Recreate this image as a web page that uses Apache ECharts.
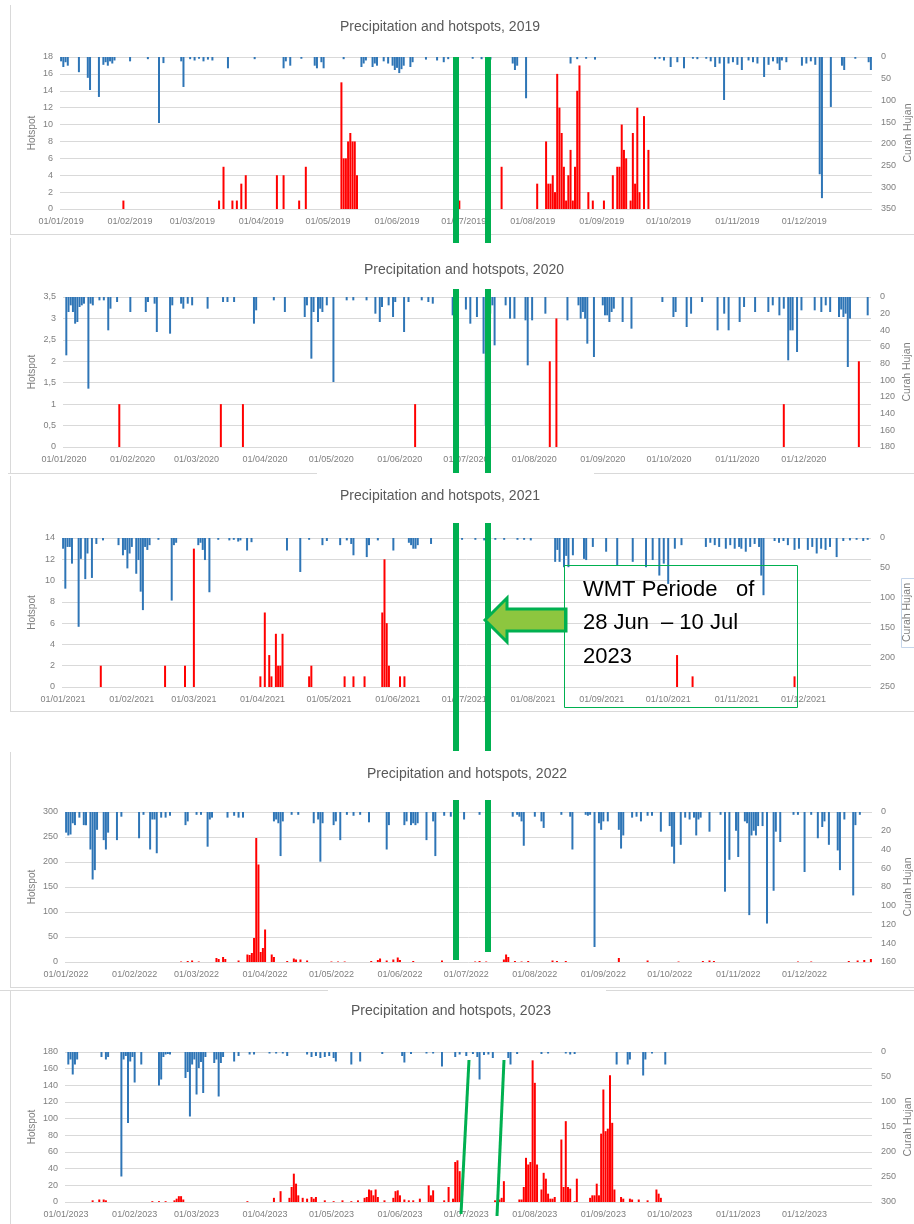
<!DOCTYPE html>
<html><head><meta charset="utf-8">
<script src="https://cdn.jsdelivr.net/npm/echarts@6/dist/echarts.min.js"></script>
<style>html,body{margin:0;padding:0;background:#fff}#c{width:914px;height:1224px}</style>
</head><body><div id="c"></div>
<script>
// ---------- DATA (sparse [dayOfYear, value]) ----------
const years = [2019, 2020, 2021, 2022, 2023];
const titles = years.map(y => 'Precipitation and hotspots, ' + y);

const hot2019 = [[28,1],[71,1],[73,5],[77,1],[79,1],[81,3],[83,4],[97,4],[100,4],[107,1],[110,5],[126,15],[127,6],[128,6],[129,8],[130,9],[131,8],[132,8],[133,4],[179,1],[198,5],[214,3],[218,8],[219,3],[220,3],[221,4],[222,2],[223,16],[224,12],[225,9],[226,5],[227,1],[228,4],[229,7],[230,1],[231,5],[232,14],[233,17],[237,2],[239,1],[244,1],[248,4],[250,5],[251,5],[252,10],[253,7],[254,6],[256,1],[257,9],[258,3],[259,12],[260,2],[262,11],[264,7]];
const rain2019 = [[0,10],[1,23],[2,12],[3,20],[8,35],[12,48],[13,76],[17,92],[19,18],[20,12],[21,20],[22,10],[23,15],[24,8],[31,10],[39,5],[44,152],[46,14],[54,10],[55,69],[58,5],[60,8],[62,4],[64,10],[66,6],[68,8],[75,26],[87,5],[100,26],[101,10],[103,20],[108,4],[114,20],[115,26],[117,12],[118,26],[127,5],[135,23],[136,15],[137,8],[140,23],[141,15],[142,20],[145,10],[147,15],[149,20],[150,30],[151,25],[152,37],[153,28],[154,20],[157,23],[158,12],[164,6],[169,8],[172,12],[174,5],[185,4],[189,5],[191,4],[193,6],[203,15],[204,30],[205,20],[209,95],[229,15],[232,5],[236,4],[240,6],[267,5],[269,4],[271,8],[274,23],[277,12],[280,26],[284,4],[286,5],[290,4],[292,10],[294,23],[296,15],[298,99],[300,15],[302,12],[304,18],[306,30],[309,8],[311,12],[313,15],[316,46],[318,18],[320,10],[322,15],[323,30],[324,8],[326,12],[333,20],[335,15],[337,10],[339,18],[341,270],[342,325],[346,115],[351,20],[352,30],[357,4],[363,12],[364,30]];

const hot2020 = [[25,1],[71,1],[81,1],[159,1],[220,2],[223,3],[326,1],[360,2]];
const rain2020 = [[1,70],[2,18],[3,10],[4,18],[5,32],[6,30],[7,12],[8,10],[9,8],[11,110],[12,8],[13,10],[16,4],[18,4],[20,40],[21,14],[24,6],[30,18],[37,18],[38,6],[41,8],[42,42],[48,44],[49,10],[53,8],[54,14],[56,8],[58,10],[65,14],[72,6],[74,6],[77,6],[86,32],[87,16],[95,4],[100,18],[109,24],[110,10],[112,74],[113,18],[115,30],[116,14],[117,18],[119,10],[122,102],[128,4],[131,4],[137,4],[141,20],[143,30],[144,12],[147,10],[149,24],[150,6],[154,42],[156,6],[162,4],[165,6],[167,8],[176,22],[177,14],[182,15],[184,32],[187,24],[190,68],[191,154],[193,20],[194,10],[195,58],[200,10],[202,26],[204,26],[209,28],[210,82],[212,28],[218,20],[228,28],[233,10],[234,26],[235,18],[236,26],[237,56],[240,72],[244,10],[245,22],[246,22],[247,30],[248,18],[249,14],[253,30],[257,38],[271,6],[276,24],[277,18],[282,36],[284,20],[289,6],[296,40],[299,20],[301,40],[306,30],[308,12],[313,18],[319,18],[321,10],[324,22],[326,14],[328,76],[329,40],[330,40],[332,66],[334,16],[340,16],[343,18],[345,10],[347,18],[351,24],[352,15],[353,24],[354,20],[355,84],[356,26],[364,22]];

const hot2021 = [[17,2],[46,2],[55,2],[59,13],[89,1],[91,7],[93,3],[94,1],[96,5],[97,2],[98,2],[99,5],[111,1],[112,2],[127,1],[131,1],[136,1],[144,7],[145,12],[146,6],[147,2],[152,1],[154,1],[277,3],[284,1],[330,1]];
const rain2021 = [[0,18],[1,85],[2,15],[3,15],[4,43],[7,149],[8,35],[10,69],[11,26],[13,67],[15,10],[18,4],[25,12],[27,29],[28,20],[29,51],[30,26],[31,15],[33,60],[34,37],[35,90],[36,121],[37,15],[38,20],[39,12],[43,3],[49,105],[50,12],[51,8],[61,12],[62,8],[63,20],[64,37],[66,91],[70,3],[75,4],[77,3],[79,6],[80,4],[83,21],[85,7],[101,21],[107,57],[111,3],[117,12],[119,5],[125,12],[128,4],[130,10],[131,29],[137,32],[138,12],[142,4],[149,21],[156,8],[157,12],[158,18],[159,18],[160,12],[166,10],[180,3],[186,3],[190,4],[195,3],[199,3],[205,3],[208,3],[211,4],[222,40],[223,20],[224,40],[226,49],[227,30],[228,49],[230,29],[235,35],[236,37],[239,15],[245,23],[250,46],[257,40],[263,49],[266,37],[269,63],[271,43],[273,77],[276,18],[279,12],[290,15],[292,8],[294,12],[296,15],[299,18],[301,12],[303,18],[305,15],[306,18],[308,23],[310,15],[312,10],[314,15],[315,63],[316,96],[321,5],[323,8],[325,5],[327,12],[330,20],[332,18],[336,20],[338,15],[340,26],[342,18],[344,20],[346,15],[349,32],[352,5],[355,4],[358,3],[361,5],[363,3]];

const hot2022 = [[52,1],[55,2],[57,3],[60,1],[68,8],[69,6],[71,10],[72,6],[78,3],[82,15],[83,14],[84,18],[85,48],[86,248],[87,195],[88,20],[89,28],[90,65],[93,15],[94,10],[100,2],[103,7],[104,5],[106,5],[109,3],[120,1],[123,1],[126,1],[138,2],[141,4],[142,7],[145,3],[148,5],[150,9],[151,4],[157,2],[170,3],[185,1],[187,2],[190,1],[198,5],[199,15],[200,10],[203,2],[206,1],[209,2],[220,3],[222,2],[226,2],[250,8],[263,3],[277,1],[288,2],[291,3],[293,2],[331,1],[337,1],[354,2],[358,3],[361,4],[364,6]];
const rain2022 = [[0,22],[1,25],[2,24],[3,12],[4,14],[6,6],[8,14],[9,14],[11,40],[12,72],[13,62],[14,19],[17,30],[18,40],[19,22],[23,30],[25,5],[33,28],[35,3],[38,40],[39,8],[40,8],[41,44],[43,6],[45,6],[47,4],[54,14],[55,10],[59,3],[61,3],[64,37],[65,8],[66,6],[73,6],[76,4],[78,6],[80,6],[94,10],[95,8],[96,12],[97,47],[98,10],[102,3],[105,3],[112,12],[114,8],[115,53],[116,12],[121,14],[122,10],[124,30],[127,3],[130,4],[133,3],[137,11],[145,40],[146,14],[153,14],[154,10],[156,14],[157,12],[158,14],[159,12],[163,30],[166,10],[167,47],[171,4],[174,5],[180,8],[187,3],[202,5],[204,3],[205,5],[206,10],[207,36],[212,5],[215,10],[216,17],[224,3],[228,5],[229,40],[235,3],[236,4],[237,3],[239,144],[241,12],[242,19],[243,10],[245,10],[250,19],[251,39],[252,25],[256,6],[258,5],[260,10],[263,4],[265,4],[269,21],[273,15],[274,37],[275,55],[278,35],[280,6],[282,8],[284,6],[285,25],[286,8],[287,6],[291,21],[296,3],[298,85],[300,51],[303,20],[304,48],[307,10],[308,12],[309,110],[310,25],[311,20],[312,25],[313,15],[315,15],[317,119],[320,84],[321,21],[323,32],[329,3],[331,3],[334,64],[337,3],[340,28],[342,16],[343,10],[345,35],[349,41],[350,62],[352,8],[356,89],[357,14],[359,3]];

const hot2023 = [[12,2],[15,3],[17,3],[18,2],[39,1],[42,1],[45,1],[49,2],[50,4],[51,7],[52,7],[53,3],[82,1],[94,5],[97,13],[101,5],[102,18],[103,34],[104,22],[105,8],[107,5],[109,4],[111,6],[112,4],[113,6],[117,2],[121,1],[125,2],[129,1],[132,2],[135,5],[136,6],[137,15],[138,14],[139,8],[140,15],[141,6],[144,2],[148,5],[149,13],[150,14],[151,8],[153,3],[155,2],[157,2],[160,4],[164,20],[165,8],[166,14],[171,2],[173,18],[175,4],[176,48],[177,50],[178,37],[179,19],[194,2],[196,3],[197,5],[198,25],[205,3],[206,3],[207,18],[208,53],[209,45],[210,48],[211,170],[212,143],[213,45],[215,15],[216,35],[217,28],[218,10],[219,4],[220,4],[221,6],[224,75],[225,18],[226,97],[227,18],[228,16],[230,1],[231,28],[237,5],[238,8],[239,8],[240,22],[241,8],[242,82],[243,135],[244,85],[245,88],[246,152],[247,95],[248,15],[251,6],[252,4],[255,4],[256,3],[259,3],[263,2],[267,15],[268,10],[269,5]];
const rain2023 = [[1,25],[2,15],[3,45],[4,25],[5,15],[16,10],[18,15],[19,10],[25,249],[26,15],[27,8],[28,142],[29,19],[30,10],[31,61],[34,25],[42,67],[43,55],[44,10],[45,5],[46,4],[47,5],[54,52],[55,40],[56,129],[57,25],[58,15],[59,85],[60,32],[61,20],[62,82],[63,10],[67,22],[68,15],[69,89],[70,22],[71,10],[76,19],[78,8],[83,5],[85,5],[92,3],[95,3],[98,3],[100,8],[109,5],[111,10],[113,8],[115,12],[117,10],[119,8],[121,12],[122,19],[129,25],[133,19],[143,4],[152,8],[153,21],[156,4],[163,3],[166,3],[170,29],[176,10],[178,5],[181,8],[184,4],[186,10],[187,55],[189,6],[191,5],[193,12],[200,12],[201,25],[204,4],[215,4],[218,3],[226,3],[228,5],[230,4],[249,25],[254,25],[255,15],[261,47],[262,15],[265,3],[271,25]];

const hotData = [hot2019, hot2020, hot2021, hot2022, hot2023];
const rainData = [rain2019, rain2020, rain2021, rain2022, rain2023];
const hotMax = [18, 3.5, 14, 300, 180];
const hotStep = [2, 0.5, 2, 50, 20];
const rainMax = [350, 180, 250, 160, 300];
const rainStep = [50, 20, 50, 20, 50];

// ---------- LAYOUT ----------
const gridPos = [
  {left: 60, right: 42, top: 57, height: 152},
  {left: 63, right: 43, top: 297, height: 150},
  {left: 62, right: 43, top: 538, height: 149},
  {left: 65, right: 42, top: 812, height: 150},
  {left: 65, right: 42, top: 1052, height: 150}
];
const titlePos = [[440, 27], [464, 270], [440, 496], [467, 774], [451, 1011]];

function dayLabels(y) {
  const out = [];
  const d = new Date(Date.UTC(y, 0, 1));
  while (d.getUTCFullYear() === y) {
    const dd = String(d.getUTCDate()).padStart(2, '0');
    const mm = String(d.getUTCMonth() + 1).padStart(2, '0');
    out.push(dd + '/' + mm + '/' + y);
    d.setUTCDate(d.getUTCDate() + 1);
  }
  return out;
}
function dense(pairs, n) {
  const a = new Array(n).fill('-');
  pairs.forEach(p => { a[p[0]] = p[1]; });
  return a;
}

const FONT = '"Liberation Sans", Arial, sans-serif';
const grey = '#7f7f7f';
const grids = [], xAxes = [], yAxes = [], series = [];
years.forEach((y, i) => {
  const cats = dayLabels(y);
  grids.push(Object.assign({containLabel: false, outerBoundsMode: 'none'}, gridPos[i]));
  xAxes.push({
    type: 'category', gridIndex: i, data: cats, boundaryGap: true,
    axisLine: {show: false}, axisTick: {show: false}, splitLine: {show: false},
    axisLabel: {
      interval: (idx, val) => val.startsWith('01/'),
      color: grey, fontSize: 9, fontFamily: FONT, margin: 8
    }
  });
  yAxes.push({
    type: 'value', gridIndex: i, min: 0, max: hotMax[i], interval: hotStep[i],
    name: 'Hotspot', nameLocation: 'middle', nameRotate: 90,
    nameGap: gridPos[i].left - 37, nameMoveOverlap: false,
    nameTextStyle: {color: grey, fontSize: 10, fontFamily: FONT},
    axisLine: {show: false}, axisTick: {show: false},
    axisLabel: {color: grey, fontSize: 9, fontFamily: FONT, margin: 7,
      formatter: v => String(v).replace('.', ',')},
    splitLine: {show: true, lineStyle: {color: '#d9d9d9', width: 1}}
  });
  yAxes.push({
    type: 'value', gridIndex: i, position: 'right', inverse: true,
    min: 0, max: rainMax[i], interval: rainStep[i],
    name: 'Curah Hujan', nameLocation: 'middle', nameRotate: 90, nameGap: 31, nameMoveOverlap: false,
    nameTextStyle: {color: grey, fontSize: 10.5, fontFamily: FONT},
    axisLine: {show: false}, axisTick: {show: false},
    axisLabel: {color: grey, fontSize: 9, fontFamily: FONT, margin: 9},
    splitLine: {show: false}
  });
  series.push({
    type: 'bar', name: 'Curah Hujan ' + y, xAxisIndex: i, yAxisIndex: 2 * i + 1,
    data: dense(rainData[i], cats.length), barGap: '-100%', barCategoryGap: '10%',
    itemStyle: {color: '#2e75b6'}, z: 2, silent: true
  });
  series.push({
    type: 'bar', name: 'Hotspot ' + y, xAxisIndex: i, yAxisIndex: 2 * i,
    data: dense(hotData[i], cats.length), barGap: '-100%', barCategoryGap: '10%',
    itemStyle: {color: '#ff0000'}, z: 3, silent: true
  });
});

// ---------- GRAPHIC OVERLAYS ----------
const G = '#00b050';
const frame = '#d9d9d9';
const gfx = [];
function line(x1, y1, x2, y2, color, w, z) {
  gfx.push({type: 'line', shape: {x1, y1, x2, y2}, style: {stroke: color, lineWidth: w}, z: z || 10, silent: true});
}
function rect(x, y, w, h, color, z) {
  gfx.push({type: 'rect', shape: {x, y, width: w, height: h}, style: {fill: color}, z: z || 20, silent: true});
}
// panel frames
line(10.5, 5, 10.5, 234, frame, 1); line(10, 234.5, 914, 234.5, frame, 1);
line(10.5, 238, 10.5, 473, frame, 1); line(8, 473.5, 317, 473.5, frame, 1); line(594, 473.5, 914, 473.5, frame, 1);
line(10.5, 476, 10.5, 711, frame, 1); line(10, 711.5, 914, 711.5, frame, 1);
line(10.5, 752, 10.5, 987, frame, 1); line(10, 987.5, 914, 987.5, frame, 1);
line(0, 990.5, 328, 990.5, frame, 1); line(606, 990.5, 914, 990.5, frame, 1); line(10.5, 991, 10.5, 1224, frame, 1);
// small outline round the 2021 right axis title
gfx.push({type: 'rect', z: 12, silent: true, shape: {x: 901.5, y: 578.5, width: 13, height: 69},
  style: {fill: 'none', stroke: '#c5d5ea', lineWidth: 1}});
// titles
years.forEach((y, i) => {
  gfx.push({type: 'text', x: titlePos[i][0], y: titlePos[i][1], z: 30, silent: true,
    style: {text: titles[i], fill: '#595959', font: '14px ' + FONT, textAlign: 'center', textVerticalAlign: 'middle'}});
});
// vertical green period lines (panels 2019-2022)
[[57, 243], [289, 473], [523, 751], [800, 960]].forEach(s => rect(453, s[0], 6, s[1] - s[0], G));
[[57, 243], [289, 473], [523, 751], [800, 952]].forEach(s => rect(485, s[0], 6, s[1] - s[0], G));
// slanted green lines (2023)
line(469, 1060, 461, 1214, G, 3, 20);
line(504, 1060, 497, 1216, G, 3, 20);
// arrow
gfx.push({type: 'polygon', z: 25, silent: true,
  shape: {points: [[485, 620], [507, 598], [507, 609], [566, 609], [566, 631], [507, 631], [507, 642]]},
  style: {fill: '#8dc63f', stroke: G, lineWidth: 3}});
// text box
gfx.push({type: 'rect', z: 25, silent: true, shape: {x: 564.5, y: 565.5, width: 233, height: 142},
  style: {fill: 'none', stroke: G, lineWidth: 1}});
const boxFont = '22px ' + FONT;
[['WMT Periode', 583, 590], ['of', 736, 590], ['28 Jun', 583, 623], ['\u2013 10 Jul', 661, 623], ['2023', 583, 657]]
  .forEach(t => gfx.push({type: 'text', x: t[1], y: t[2], z: 26, silent: true,
    style: {text: t[0], fill: '#000', font: boxFont, textAlign: 'left', textVerticalAlign: 'middle'}}));

const chart = echarts.init(document.getElementById('c'), null, {renderer: 'canvas'});
chart.setOption({
  animation: false,
  backgroundColor: '#fff',
  grid: grids, xAxis: xAxes, yAxis: yAxes, series: series,
  graphic: {elements: gfx}
});
</script></body></html>
